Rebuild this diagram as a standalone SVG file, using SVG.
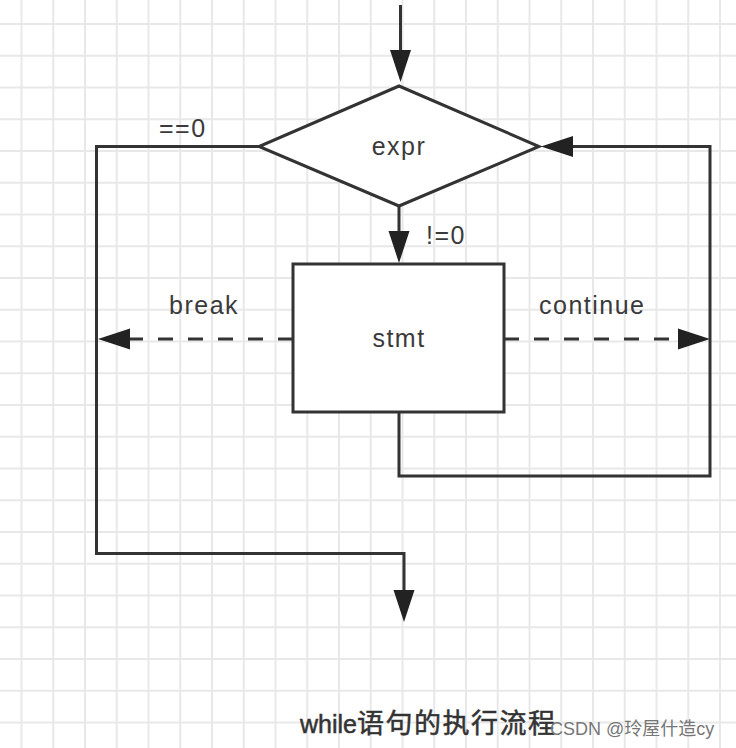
<svg xmlns="http://www.w3.org/2000/svg" width="736" height="748" viewBox="0 0 736 748">
  <style>
    .ln { fill: none; stroke: #333; stroke-width: 3; }
    .dash { stroke-dasharray: 15 15; }
    .shape { fill: #fff; stroke: #333; stroke-width: 3; }
    .lbl { font-family: "Liberation Sans", Arial, sans-serif; font-size: 25px; fill: #3a3a3a; letter-spacing: 1.5px; }
    .cap { font-family: "Liberation Sans", "Noto Sans CJK SC", sans-serif; fill: #333; stroke: #333; stroke-width: 0.5; }
    .wm { font-family: "Liberation Sans", "Noto Sans CJK SC", sans-serif; font-size: 18px; fill: #777; }
  </style>
  <defs>
    <pattern id="grid" patternUnits="userSpaceOnUse" x="5.625" y="8.125" width="31.75" height="31.75">
      <path d="M15.875,0 V31.75 M0,15.875 H31.75" stroke="#e8e8e8" stroke-width="2" fill="none"/>
    </pattern>
    <marker id="arr" markerUnits="userSpaceOnUse" markerWidth="32" markerHeight="21" refX="22" refY="10.5" orient="auto" overflow="visible">
      <path d="M0,0 L32,10.5 L0,21 Z" fill="#222"/>
    </marker>
  </defs>
  <rect width="736" height="748" fill="#fff"/>
  <rect width="736" height="748" fill="url(#grid)"/>

  <g id="connectors">
    <path class="ln" d="M400.5,5 V72" marker-end="url(#arr)"/>
    <path class="ln" d="M399,205 V253" marker-end="url(#arr)"/>
    <path class="ln" d="M259,146.5 H96.5 V553.5 H404 V612" marker-end="url(#arr)"/>
    <path class="ln" d="M399,412 V476 H710 V146.5 H551" marker-end="url(#arr)"/>
    <path class="ln dash" d="M293,339 H108" marker-end="url(#arr)"/>
    <path class="ln dash" d="M504,339 H700" marker-end="url(#arr)"/>
  </g>

  <g id="expr">
    <polygon class="shape" points="399,86 539,146.5 399,206 259,146.5"/>
    <text class="lbl" x="399" y="155" text-anchor="middle">expr</text>
  </g>
  <g id="stmt">
    <rect class="shape" x="293" y="264" width="211" height="148"/>
    <text class="lbl" x="399" y="347" text-anchor="middle">stmt</text>
  </g>

  <g id="labels">
    <text class="lbl" x="159" y="137">==0</text>
    <text class="lbl" x="426" y="244">!=0</text>
    <text class="lbl" x="169" y="314">break</text>
    <text class="lbl" x="539" y="314">continue</text>
  </g>

  <g id="caption">
    <text class="cap" x="300" y="733" font-size="25"><tspan>while</tspan><tspan font-size="27" letter-spacing="1.5">语句的执行流程</tspan></text>
    <text class="wm" x="550" y="735">CSDN @玲屋什造cy</text>
  </g>
</svg>
